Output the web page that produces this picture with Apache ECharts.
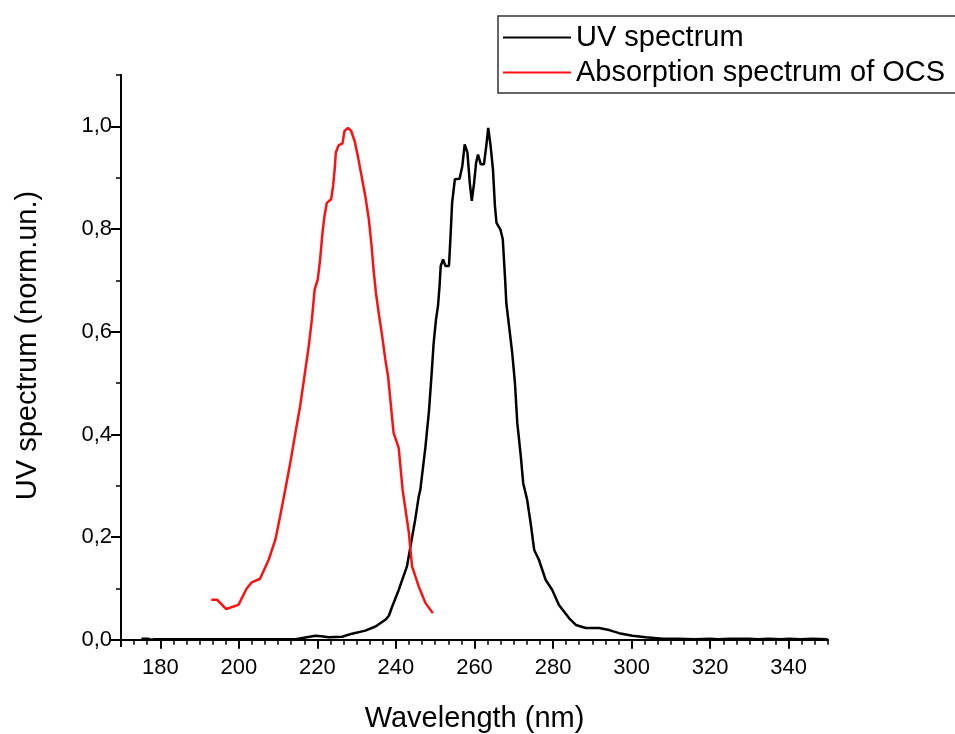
<!DOCTYPE html>
<html><head><meta charset="utf-8">
<script src="https://cdn.jsdelivr.net/npm/echarts@6/dist/echarts.min.js"></script>
<style>html,body{margin:0;padding:0;background:#fff}#c{width:955px;height:734px}</style>
</head><body><div id="c"></div>
<script>
// UV spectrum (black)
const uvX = [175.2,177.0,177.7,178.5,185,195,205,214.4,214.8,219.5,221,222.9,226.3,228.8,232.2,234.8,237.3,238.2,239.0,240.7,242.8,243.7,244.9,245.8,246.2,247.5,248.4,249.1,249.6,250.2,250.7,251.1,251.4,252.0,252.6,253.5,253.9,254.3,255.0,256.2,256.9,257.5,258.2,258.8,259.3,259.9,260.4,260.9,261.6,262.4,263.0,263.5,264.1,264.7,265.2,265.6,266.6,267.2,267.8,268.1,268.8,269.6,270.3,270.9,271.8,272.4,273.4,274.3,275.2,276.4,278.1,279.8,281.5,284.1,285.8,288.3,291.7,294.3,296.8,300.2,303.6,307.9,312,316,320,322,325,330,332,335,338,340,343,346,349.9];
const uvY = [0.002,0.002,0.000,0.001,0.001,0.001,0.001,0.001,0.003,0.008,0.007,0.005,0.006,0.012,0.018,0.026,0.039,0.047,0.064,0.097,0.143,0.182,0.234,0.279,0.292,0.375,0.445,0.520,0.578,0.624,0.650,0.689,0.728,0.741,0.728,0.728,0.786,0.851,0.897,0.898,0.923,0.965,0.949,0.890,0.855,0.890,0.929,0.945,0.926,0.926,0.962,0.997,0.962,0.916,0.845,0.812,0.799,0.780,0.702,0.656,0.611,0.559,0.500,0.422,0.357,0.305,0.273,0.227,0.175,0.156,0.117,0.097,0.068,0.042,0.029,0.023,0.023,0.019,0.013,0.008,0.005,0.002,0.002,0.001,0.002,0.001,0.002,0.002,0.001,0.002,0.001,0.002,0.001,0.002,0.001];
// Absorption spectrum of OCS (red)
const ocsX = [193.0,194.5,196.8,199.9,202.0,203.3,205.4,207.6,209.3,210.5,211.8,213.1,214.4,215.6,216.7,217.8,218.6,219.3,220.1,220.7,221.3,221.8,222.4,223.5,224.0,224.4,224.7,225.4,226.4,226.9,227.8,228.6,229.5,230.3,231.4,232.2,233.1,233.8,234.3,234.9,235.6,236.5,237.3,238.0,239.4,240.7,241.7,243.3,244.1,245.8,247.5,249.4];
const ocsY = [0.078,0.078,0.060,0.068,0.100,0.112,0.119,0.156,0.195,0.240,0.292,0.345,0.403,0.455,0.513,0.572,0.624,0.682,0.702,0.741,0.793,0.825,0.851,0.858,0.884,0.916,0.949,0.963,0.967,0.991,0.997,0.991,0.971,0.942,0.897,0.864,0.819,0.767,0.721,0.676,0.637,0.591,0.546,0.513,0.403,0.374,0.292,0.208,0.143,0.104,0.072,0.052];

const xMajor = [180,200,220,240,260,280,300,320,340];
const xMinor = [];
for (let k = 0; k <= 54; k++) xMinor.push(170 + k * 10 / 3);
const yMajor = [0,0.2,0.4,0.6,0.8,1.0];
const yMinor = [0,0.1,0.2,0.3,0.4,0.5,0.6,0.7,0.8,0.9,1.0,1.1];

const seriesNames = ['UV spectrum','Absorption spectrum of OCS'];
const FONT = "'Liberation Sans', Arial, sans-serif";

const chart = echarts.init(document.getElementById('c'), null, {renderer:'canvas'});
const axLine = {show:true, lineStyle:{color:'#000', width:2}};
chart.setOption({
  animation:false,
  backgroundColor:'#fff',
  grid:{left:121, right:127, top:75, bottom:88, containLabel:false, outerBoundsMode:'none'},
  legend:{
    orient:'vertical', left:498, top:16,
    padding:[4,60,3,5], itemGap:0,
    itemWidth:68, itemHeight:2, icon:'rect',
    borderColor:'#333', borderWidth:1.5,
    textStyle:{fontFamily:FONT, fontSize:29, color:'#000', lineHeight:35},
    data:seriesNames
  },
  xAxis:[{
    type:'value', min:170, max:350,
    name:'Wavelength (nm)', nameLocation:'middle', nameGap:58,
    nameTextStyle:{fontFamily:FONT, fontSize:29, color:'#000'},
    axisLine:axLine,
    axisTick:{show:true, length:9, lineStyle:{color:'#000', width:2}, customValues:xMajor},
    axisLabel:{show:true, margin:11, fontFamily:FONT, fontSize:22, color:'#000', customValues:xMajor},
    splitLine:{show:false}
  },{
    type:'value', min:170, max:350, position:'bottom',
    axisLine:axLine,
    axisTick:{show:true, length:5, lineStyle:{color:'#000', width:1.5}, customValues:xMinor},
    axisLabel:{show:false},
    splitLine:{show:false}
  }],
  yAxis:[{
    type:'value', min:-0.012, max:1.1,
    name:'UV spectrum (norm.un.)', nameLocation:'middle', nameGap:79, nameRotate:90,
    nameTextStyle:{fontFamily:FONT, fontSize:29, color:'#000', padding:[0,0,0,30]},
    axisLine:axLine,
    axisTick:{show:true, length:10, lineStyle:{color:'#000', width:2}, customValues:yMajor},
    axisLabel:{show:true, margin:9, fontFamily:FONT, fontSize:22, color:'#000', customValues:yMajor,
      formatter:v=>v.toFixed(1).replace('.', ',')},
    splitLine:{show:false}
  },{
    type:'value', min:-0.012, max:1.1, position:'left',
    axisLine:axLine,
    axisTick:{show:true, length:5, lineStyle:{color:'#000', width:1.5}, customValues:yMinor},
    axisLabel:{show:false},
    splitLine:{show:false}
  }],
  series:[{
    name:seriesNames[0], type:'line', xAxisIndex:0, yAxisIndex:0,
    data:uvX.map((x,i)=>[x, uvY[i]]),
    showSymbol:false, symbol:'none', color:'#000',
    lineStyle:{color:'#000', width:2.5}
  },{
    name:seriesNames[1], type:'line', xAxisIndex:0, yAxisIndex:0,
    data:ocsX.map((x,i)=>[x, ocsY[i]]),
    showSymbol:false, symbol:'none', color:'#ff1010',
    lineStyle:{color:'#ff1010', width:2.5}
  }]
});
</script></body></html>
